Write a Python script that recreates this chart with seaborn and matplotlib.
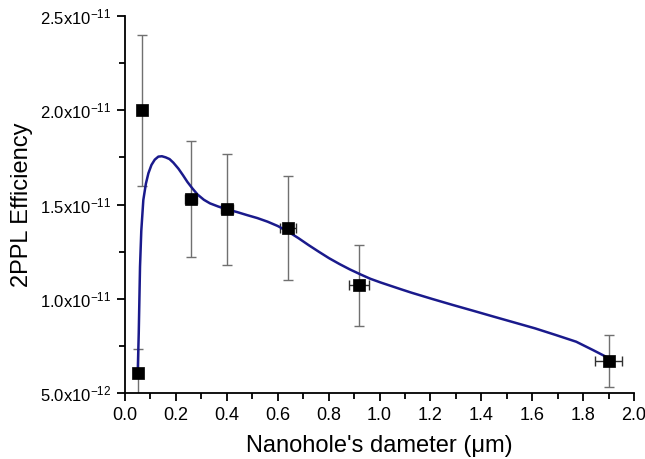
import numpy as np
import pandas as pd
import matplotlib
matplotlib.use("Agg")
import matplotlib.pyplot as plt
from matplotlib.ticker import MultipleLocator, FixedLocator, FuncFormatter
import seaborn as sns

# Data points (diameter in um, efficiency)
diam = [0.05, 0.065, 0.26, 0.40, 0.64, 0.92, 1.90]
eff = [6.08e-12, 2.00e-11, 1.531e-11, 1.475e-11, 1.377e-11, 1.071e-11, 6.71e-12]
eff_err = [1.23e-12, 4.0e-12, 3.07e-12, 2.95e-12, 2.75e-12, 2.15e-12, 1.37e-12]
diam_err = [0.0, 0.0, 0.023, 0.023, 0.032, 0.04, 0.053]

# Fitted curve
curve_x = [0.05, 0.054, 0.059, 0.064, 0.072, 0.082, 0.092, 0.104, 0.117, 0.131,
           0.145, 0.160, 0.175, 0.19, 0.21, 0.228, 0.245, 0.265, 0.285, 0.31,
           0.334, 0.365, 0.398, 0.44, 0.479, 0.52, 0.56, 0.60, 0.641, 0.681,
           0.721, 0.762, 0.802, 0.843, 0.883, 0.924, 0.964, 1.005, 1.045, 1.085,
           1.126, 1.207, 1.288, 1.369, 1.449, 1.530, 1.611, 1.692, 1.773, 1.84, 1.902]
curve_y = [6.08e-12, 8.17e-12, 1.17e-11, 1.36e-11, 1.524e-11, 1.61e-11, 1.666e-11,
           1.71e-11, 1.738e-11, 1.754e-11, 1.756e-11, 1.75e-11, 1.741e-11, 1.722e-11,
           1.69e-11, 1.655e-11, 1.62e-11, 1.585e-11, 1.553e-11, 1.525e-11,
           1.506e-11, 1.49e-11, 1.475e-11, 1.46e-11, 1.444e-11, 1.428e-11,
           1.409e-11, 1.386e-11, 1.356e-11, 1.322e-11, 1.285e-11, 1.249e-11,
           1.215e-11, 1.184e-11, 1.156e-11, 1.13e-11, 1.106e-11, 1.086e-11,
           1.068e-11, 1.05e-11, 1.032e-11, 0.999e-11, 0.967e-11, 0.936e-11,
           0.905e-11, 0.874e-11, 0.843e-11, 0.808e-11, 0.772e-11, 0.727e-11, 0.684e-11]

yticks = [5e-12, 1e-11, 1.5e-11, 2e-11, 2.5e-11]
ytick_labels = ["5.0x10$^{-12}$", "1.0x10$^{-11}$", "1.5x10$^{-11}$", "2.0x10$^{-11}$", "2.5x10$^{-11}$"]

sns.set_theme(style="ticks")
plt.rcParams['font.family'] = ['Liberation Sans', 'DejaVu Sans']
plt.rcParams['mathtext.fontset'] = 'custom'
plt.rcParams['mathtext.rm'] = 'Liberation Sans'
plt.rcParams['mathtext.it'] = 'Liberation Sans:italic'
plt.rcParams['mathtext.bf'] = 'Liberation Sans:bold'
plt.rcParams['mathtext.default'] = 'regular'
plt.rcParams['text.color'] = 'black'
plt.rcParams['axes.labelcolor'] = 'black'

fig = plt.figure(figsize=(6.45, 4.59), dpi=100)
ax = fig.add_axes([125/645, 1-393/459, (634-125)/645, (393-16)/459])

curve_df = pd.DataFrame({"x": curve_x, "y": curve_y})
sns.lineplot(data=curve_df, x="x", y="y", ax=ax, color="#1a1a8c", linewidth=1.8,
             sort=False, zorder=2)

ax.errorbar(diam, eff, yerr=eff_err, fmt="none", ecolor="#707070", elinewidth=1.0,
            capsize=3.5, capthick=1.0, zorder=1)
ax.errorbar(diam, eff, xerr=diam_err, fmt="none", ecolor="#303030", elinewidth=1.0,
            capsize=3.5, capthick=1.0, zorder=1)

pts = pd.DataFrame({"d": diam, "e": eff})
sns.scatterplot(data=pts, x="d", y="e", ax=ax, marker="s", s=65, color="black",
                edgecolor="black", linewidth=0.5, zorder=3)

ax.set_xlim(0, 2.0)
ax.set_ylim(5e-12, 2.5e-11)
ax.xaxis.set_major_locator(MultipleLocator(0.2))
ax.xaxis.set_minor_locator(MultipleLocator(0.1))
ax.xaxis.set_major_formatter(FuncFormatter(lambda v, p: f"{v:.1f}"))
ax.yaxis.set_major_locator(FixedLocator(yticks))
ax.set_yticklabels(ytick_labels)
ax.yaxis.set_minor_locator(MultipleLocator(2.5e-12))

for s in ["top", "right"]:
    ax.spines[s].set_visible(False)
for s in ["left", "bottom"]:
    ax.spines[s].set_linewidth(1.3)
    ax.spines[s].set_color("black")

ax.tick_params(which="major", direction="out", length=6, width=1.3, colors="black", pad=4)
ax.tick_params(which="minor", direction="out", length=4, width=1.3, colors="black")
ax.tick_params(axis="x", which="major", labelsize=13)
ax.tick_params(axis="y", which="major", labelsize=12)

ax.set_xlabel("Nanohole's dameter (\u03bcm)", fontsize=17, labelpad=8, color="black")
ax.set_ylabel("2PPL Efficiency", fontsize=17, color="black")
ax.yaxis.set_label_coords(-0.181, 0.5)

fig.savefig("out.png", dpi=100)
